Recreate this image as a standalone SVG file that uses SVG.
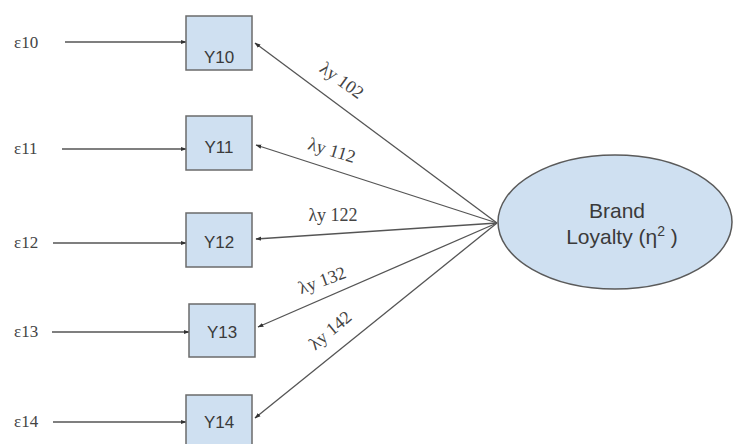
<svg xmlns="http://www.w3.org/2000/svg" width="733" height="444" viewBox="0 0 733 444">
  <style>
    .box { fill: #cfe0f1; stroke: #6b6b6b; stroke-width: 1.5; }
    .lat { fill: #cfe0f1; stroke: #5a5a5a; stroke-width: 1.5; }
    .ind { font-family: "Liberation Sans", Arial, sans-serif; font-size: 17px; fill: #3a3a3a; text-anchor: middle; }
    .latt { font-family: "Liberation Sans", Arial, sans-serif; font-size: 21px; fill: #3a3a3a; text-anchor: middle; }
    .err { font-family: "Liberation Serif", "Times New Roman", serif; font-size: 17px; fill: #444; }
    .lam { font-family: "Liberation Serif", "Times New Roman", serif; font-size: 18px; fill: #444; text-anchor: middle; }
    .edge { stroke: #555; stroke-width: 1.3; fill: none; marker-end: url(#arr); }
  </style>
  <defs>
    <marker id="arr" viewBox="0 0 10 10" refX="9" refY="5" markerWidth="6" markerHeight="6" orient="auto" markerUnits="userSpaceOnUse">
      <path d="M0,1.5 L10,5 L0,8.5 z" fill="#333"/>
    </marker>
  </defs>
  <rect width="733" height="444" fill="#fff"/>

  <!-- connectors -->
  <g id="connectors">
    <line class="edge" x1="65" y1="42" x2="186" y2="42"/>
    <line class="edge" x1="62" y1="149" x2="186" y2="149"/>
    <line class="edge" x1="53" y1="243" x2="186" y2="243"/>
    <line class="edge" x1="52" y1="332" x2="189" y2="332"/>
    <line class="edge" x1="53" y1="422" x2="186" y2="422"/>

    <line class="edge" x1="497" y1="223" x2="255" y2="43"/>
    <line class="edge" x1="497" y1="223" x2="256" y2="145"/>
    <line class="edge" x1="497" y1="223" x2="256" y2="239"/>
    <line class="edge" x1="497" y1="223" x2="258" y2="327"/>
    <line class="edge" x1="497" y1="223" x2="255" y2="418"/>
  </g>

  <!-- loading labels -->
  <g id="loadings">
    <text class="lam" dy="0.35em" transform="translate(342,80) rotate(36)">λy 102</text>
    <text class="lam" dy="0.35em" transform="translate(332,150) rotate(17)">λy 112</text>
    <text class="lam" dy="0.35em" x="333" y="215">λy 122</text>
    <text class="lam" dy="0.35em" transform="translate(322,280) rotate(-20)">λy 132</text>
    <text class="lam" dy="0.35em" transform="translate(330,330) rotate(-40)">λy 142</text>
  </g>

  <!-- error terms -->
  <g id="errors">
    <text class="err" x="14" y="48">ε10</text>
    <text class="err" x="14" y="154">ε11</text>
    <text class="err" x="14" y="248">ε12</text>
    <text class="err" x="14" y="337">ε13</text>
    <text class="err" x="14" y="427">ε14</text>
  </g>

  <!-- indicators -->
  <g id="Y10"><rect class="box" x="186" y="16" width="66" height="54"/><text class="ind" x="219" y="63">Y10</text></g>
  <g id="Y11"><rect class="box" x="186" y="116" width="66" height="54"/><text class="ind" x="219" y="153">Y11</text></g>
  <g id="Y12"><rect class="box" x="186" y="213" width="66" height="54"/><text class="ind" x="219" y="248">Y12</text></g>
  <g id="Y13"><rect class="box" x="189" y="304" width="66" height="53"/><text class="ind" x="222" y="338">Y13</text></g>
  <g id="Y14"><rect class="box" x="186" y="395" width="66" height="52"/><text class="ind" x="219" y="428">Y14</text></g>

  <!-- latent construct -->
  <g id="BrandLoyalty">
    <ellipse class="lat" cx="615" cy="222" rx="117" ry="67"/>
    <text class="latt" x="617" y="218">Brand</text>
    <text class="latt" x="622" y="244">Loyalty (η<tspan font-size="14" dy="-8">2</tspan><tspan dy="8"> )</tspan></text>
  </g>
</svg>
